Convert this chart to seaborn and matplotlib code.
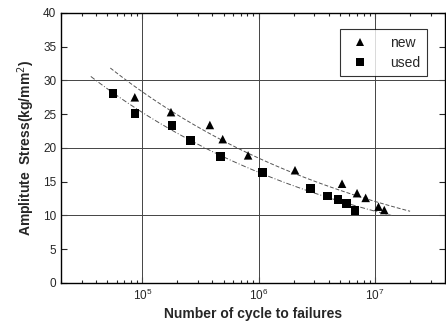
import matplotlib
matplotlib.use("Agg")
import matplotlib.pyplot as plt
import seaborn as sns
import pandas as pd
import numpy as np
from matplotlib.ticker import LogLocator, NullFormatter, MultipleLocator

# values
new_cycles = [8.6e4, 1.76e5, 3.8e5, 4.9e5, 8.1e5, 2.05e6, 5.2e6, 7.0e6, 8.3e6, 1.07e7, 1.2e7]
new_stress = [27.5, 25.3, 23.4, 21.3, 18.9, 16.7, 14.7, 13.3, 12.6, 11.3, 10.8]
used_cycles = [5.6e4, 8.6e4, 1.8e5, 2.6e5, 4.7e5, 1.08e6, 2.8e6, 3.9e6, 4.8e6, 5.7e6, 6.7e6]
used_stress = [28.1, 25.1, 23.3, 21.1, 18.7, 16.4, 14.0, 12.9, 12.4, 11.8, 10.7]
# ranges of the fitted curves
new_fit_range = [5.3e4, 2.0e7]
used_fit_range = [3.6e4, 1.4e7]

df = pd.DataFrame({
    "cycles": new_cycles + used_cycles,
    "stress": new_stress + used_stress,
    "group": ["new"] * len(new_cycles) + ["used"] * len(used_cycles),
})

sns.set_style("ticks")
plt.rcParams["font.family"] = ["Liberation Sans", "DejaVu Sans"]

fig = plt.figure(figsize=(4.46, 3.23), dpi=100)
ax = fig.add_axes([0.137, 0.124, 0.861, 0.836])

# power-law fits (straight in log-log)
for cyc, st, rng, ls in [(new_cycles, new_stress, new_fit_range, (0, (4, 2))),
                         (used_cycles, used_stress, used_fit_range, (0, (5, 2, 1, 2)))]:
    b, a = np.polyfit(np.log10(cyc), np.log10(st), 1)
    xs = np.logspace(np.log10(rng[0]), np.log10(rng[1]), 100)
    ax.plot(xs, 10 ** (a + b * np.log10(xs)), color="#555555", lw=0.7, ls=ls, zorder=2)

sns.scatterplot(data=df, x="cycles", y="stress", hue="group", style="group",
                markers={"new": "^", "used": "s"}, palette={"new": "black", "used": "black"},
                s=38, edgecolor="black", linewidth=0, ax=ax, zorder=3)

ax.set_xscale("log")
ax.set_xlim(2e4, 4e7)
ax.set_ylim(0, 40)
ax.yaxis.set_major_locator(MultipleLocator(5))
ax.xaxis.set_major_locator(LogLocator(base=10, numticks=10))
ax.xaxis.set_minor_locator(LogLocator(base=10, subs=np.arange(2, 10), numticks=10))
ax.xaxis.set_minor_formatter(NullFormatter())

# grid only at decades and every 10 on y
for v in [1e5, 1e6, 1e7]:
    ax.axvline(v, color="#444444", lw=0.7, zorder=1)
for v in [10, 20, 30]:
    ax.axhline(v, color="#444444", lw=0.7, zorder=1)

ax.tick_params(which="both", direction="in", top=True, right=True, labelsize=8.5, width=0.8)
ax.tick_params(which="major", length=4)
ax.tick_params(which="minor", length=2.5)
for sp in ax.spines.values():
    sp.set_linewidth(1.0)
    sp.set_color("black")

ax.set_xlabel("Number of cycle to failures", fontsize=10, fontweight="bold", labelpad=3)
ax.set_ylabel("Amplitute  Stress(kg/mm$^2$)", fontsize=10, fontweight="bold", labelpad=4)

leg = ax.legend(loc="upper right", bbox_to_anchor=(0.97, 0.965), frameon=True, fancybox=False,
                fontsize=10, handletextpad=1.2, borderpad=0.45, labelspacing=0.45, markerscale=1.0)
leg.get_frame().set_edgecolor("black")
leg.get_frame().set_linewidth(0.8)

fig.savefig("out.png", dpi=100)
